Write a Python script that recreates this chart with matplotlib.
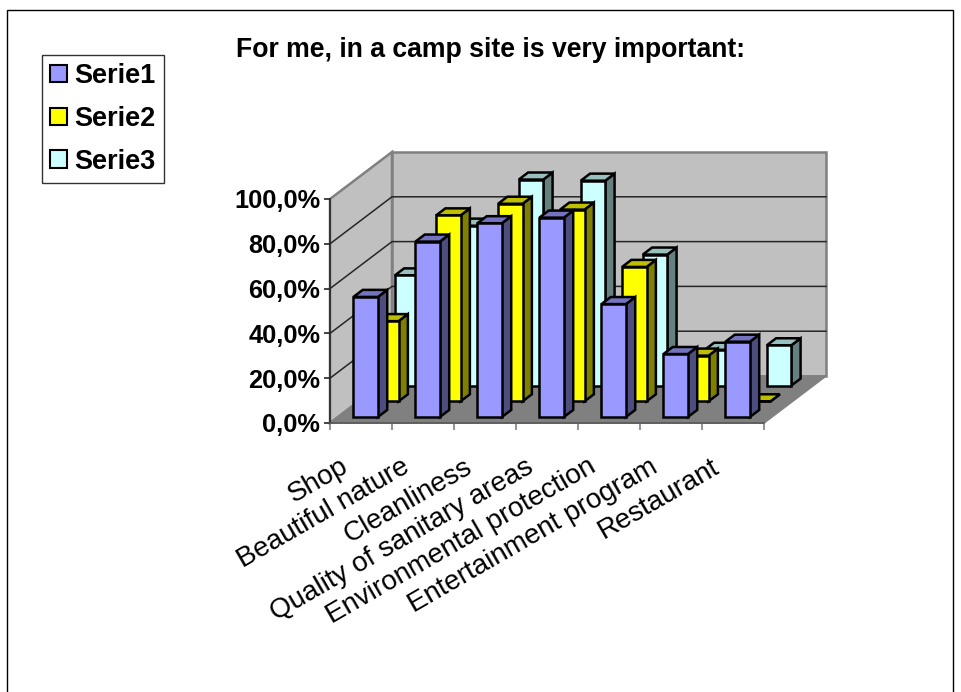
import matplotlib
matplotlib.use("Agg")
import matplotlib.pyplot as plt
from matplotlib.patches import Patch, Polygon, Rectangle

plt.rcParams['font.family'] = ['Liberation Sans', 'DejaVu Sans']

categories = ["Shop", "Beautiful nature", "Cleanliness", "Quality of sanitary areas",
              "Environmental protection", "Entertainment program", "Restaurant"]
serie1 = [53.6, 78.3, 86.5, 89.0, 50.4, 28.1, 33.6]
serie2 = [35.8, 83.0, 88.2, 85.6, 60.0, 20.4, 0.0]
serie3 = [49.2, 71.4, 92.0, 91.5, 58.5, 16.0, 18.0]
series_names = ["Serie1", "Serie2", "Serie3"]
y_ticks = [0, 20, 40, 60, 80, 100]
y_labels = ["0,0%", "20,0%", "40,0%", "60,0%", "80,0%", "100,0%"]

# front, top and side colour of each series
face_colors = ["#9999FF", "#FFFF00", "#CCFFFF"]
top_colors = ["#7373BF", "#BFBF00", "#99BFBF"]
side_colors = ["#4D4D80", "#808000", "#668080"]

W, H = 962, 692
DEPTH_X = 1.0      # categories moved per unit of depth
DEPTH_Y = 47 / 2.24  # value units moved per unit of depth
row_start = [0.128, 0.461, 0.795]
row_depth = 0.15
bar_left = 0.25
bar_width = 0.395


def project(x, v, d):
    return (x + d * DEPTH_X, v + d * DEPTH_Y)


def face(points, color, z, ec="black", lw=1.8):
    ax.add_patch(Polygon([project(*p) for p in points], closed=True, fc=color, ec=ec,
                         lw=lw, zorder=z, clip_on=False, joinstyle="miter"))


fig = plt.figure(figsize=(W / 100, H / 100), dpi=100)
fig.add_artist(Rectangle((7.5 / W, -0.01), (953 - 7.5) / W, 1.01 - 9.5 / H, fill=False,
                         ec="black", lw=1.0, transform=fig.transFigure))

ax = fig.add_axes([330 / W, (H - 423) / H, 434 / W, 224 / H])
ax.set_xlim(0, 7)
ax.set_ylim(0, 100)
ax.patch.set_visible(False)

# walls and floor
n = len(categories)
wall_edge = "#808080"
face([(0, 0, 0), (0, 100, 0), (0, 100, 1), (0, 0, 1)], "#C0C0C0", 0.5, ec=wall_edge, lw=1.8)
face([(0, 0, 1), (0, 100, 1), (n, 100, 1), (n, 0, 1)], "#C0C0C0", 0.5, ec=wall_edge, lw=1.8)
face([(0, 0, 0), (n, 0, 0), (n, 0, 1), (0, 0, 1)], "#808080", 0.6, ec=wall_edge, lw=1.2)

for t in y_ticks[1:-1]:
    pts = [project(0, t, 0), project(0, t, 1), project(n, t, 1)]
    ax.plot(*zip(*pts), color="#262626", lw=1.1, zorder=0.8, clip_on=False)

# back rows first so the front row covers them
all_series = [serie1, serie2, serie3]
z = 3
for s in [2, 1, 0]:
    d0 = row_start[s]
    d1 = d0 + row_depth
    for i, val in enumerate(all_series[s]):
        x0 = i + bar_left
        x1 = x0 + bar_width
        face([(x1, 0, d0), (x1, val, d0), (x1, val, d1), (x1, 0, d1)], side_colors[s], z)
        face([(x0, val, d0), (x1, val, d0), (x1, val, d1), (x0, val, d1)], top_colors[s], z)
        face([(x0, 0, d0), (x1, 0, d0), (x1, val, d0), (x0, val, d0)], face_colors[s], z)
        z += 1

for side in ["top", "right"]:
    ax.spines[side].set_visible(False)
ax.spines["left"].set_color("#262626")
ax.spines["left"].set_linewidth(1.2)
ax.spines["bottom"].set_color("#595959")
ax.spines["bottom"].set_linewidth(1.2)

ax.set_yticks(y_ticks)
ax.set_yticklabels(y_labels, fontsize=18.3, fontweight="bold")
ax.tick_params(axis="y", length=4, width=1.2, color="#262626", pad=3)

ax.set_xticks(range(n + 1))
ax.set_xticklabels([])
ax.tick_params(axis="x", length=5, width=1.2, color="#808080")
# category labels hang to the left of each slot
ax.set_xticks([i + 0.15 for i in range(n)], minor=True)
ax.set_xticklabels(categories, minor=True, fontsize=20, rotation=30, ha="right",
                   rotation_mode="anchor")
ax.tick_params(axis="x", which="minor", length=0, pad=22)

fig.text(491 / W, 1 - 50 / H, "For me, in a camp site is very important:", fontsize=19.2,
         fontweight="bold", ha="center", va="center")

handles = [Patch(fc=c, ec="black", lw=1.5) for c in face_colors]
leg = fig.legend(handles, series_names, loc="upper left",
                 bbox_to_anchor=(42 / W, 1 - 55 / H), bbox_transform=fig.transFigure,
                 prop={"weight": "bold", "size": 19.5}, frameon=True,
                 fancybox=False, framealpha=1, edgecolor="#333333",
                 handlelength=0.62, handleheight=0.62, handletextpad=0.27,
                 labelspacing=0.62, borderpad=0.3, borderaxespad=0)
leg.get_frame().set_linewidth(1.0)

fig.savefig("out.png", dpi=100)
